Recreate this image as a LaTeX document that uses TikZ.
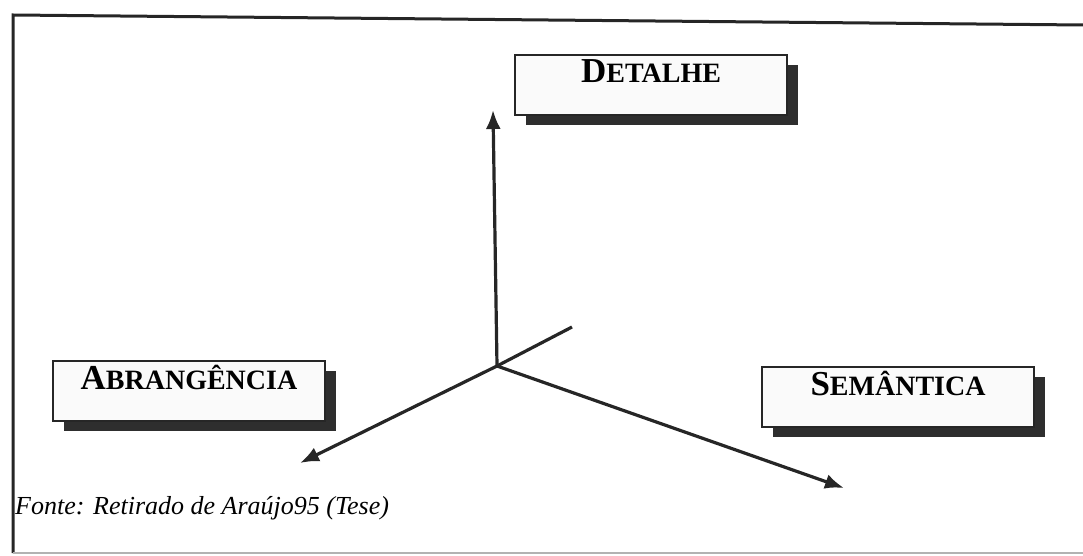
\documentclass[tikz,border=0pt]{standalone}
\usepackage{fontspec}
\setmainfont{Liberation Serif}
\usepackage{tikz}
\usetikzlibrary{arrows.meta, shadows}
\tikzstyle{caixa} = [rectangle, draw=black!85, line width=1.6pt, fill=black!2, minimum width=272pt, minimum height=60pt, inner xsep=0pt, inner ysep=0pt, text height=28pt, text depth=32pt, drop shadow={shadow xshift=11pt, shadow yshift=-10pt, fill=black!82, opacity=1}]
\tikzstyle{eixo} = [draw=black!85, line width=3.2pt, -{Latex[length=19pt, width=15pt]}]
\newcommand{\versalete}[2]{\textbf{{\fontsize{35}{35}\selectfont #1}{\fontsize{28}{28}\selectfont #2}}}

\begin{document}
\begin{tikzpicture}[x=1pt, y=-1pt]
  	\useasboundingbox (0,0) rectangle (1083,556);
  	
  	% Moldura
  	\draw [black!85, line width=3pt] (1083,25) -- (13,15) -- (13,553);
  	\draw [black!30, line width=1.4pt] (13,553) -- (1083,553);
  	
  	% Origem e extremidades dos eixos
  	\coordinate (origem) at (497,366);
  	\coordinate (cima) at (493,110);
  	\coordinate (esq) at (300,463);
  	\coordinate (dir) at (844,488);
  	\coordinate (tras) at (572,327);
  	
  	% Caixas das dimensoes
  	\node (detalhe) [caixa] at (651,85) {\versalete{D}{ETALHE}};
  	\node (abrangencia) [caixa] at (189,391) {\versalete{A}{BRANGÊNCIA}};
  	\node (semantica) [caixa] at (898,397) {\versalete{S}{EMÂNTICA}};
  	
  	% Eixos
  	\draw [eixo] (origem) -- (cima);
  	\draw [eixo] (origem) -- (esq);
  	\draw [eixo] (origem) -- (dir);
  	\draw [draw=black!85, line width=3.2pt] (origem) -- (tras);
  	
  	% Fonte
  	\node (fonte) [anchor=west, inner sep=0pt] at (15,508) {\fontsize{26}{26}\selectfont\itshape Fonte: Retirado de Araújo95 (Tese)};
  	
  \end{tikzpicture}
\end{document}
